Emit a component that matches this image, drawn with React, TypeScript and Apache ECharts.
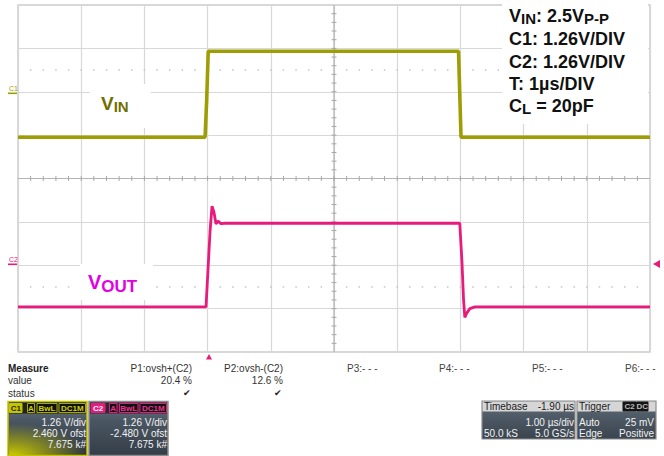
import React, { useEffect, useRef } from "react";
import * as echarts from "echarts";

// Screen layout of the scope grid (10 x 8 divisions)
const GRID_LEFT = 18;
const GRID_TOP = 5;
const GRID_W = 632;
const GRID_H = 347;
const TIME_DIVS = 10;
const VERT_DIVS = 8;
const VOLTS_PER_DIV = 1.26;
const C1_ZERO_DIV = 5.95; // ground marker of channel 1, in divisions from the bottom
const C2_ZERO_DIV = 2.0; // ground marker of channel 2

// Channel 1 (VIN): time in µs, level in V
const vinTime = [0, 2.96, 2.985, 3.01, 6.97, 6.99, 7.01, 10];
const vinVolts = [-1.26, -1.26, -0.2, 1.24, 1.24, 0.0, -1.26, -1.26];

// Channel 2 (VOUT): time in µs, level in V
const voutTime = [0, 2.975, 3.006, 3.038, 3.07, 3.1, 3.133, 3.165, 3.21, 3.275, 6.99, 7.025, 7.05, 7.07, 7.1, 7.15, 7.23, 10];
const voutVolts = [-1.21, -1.21, -0.14, 0.96, 1.716, 1.55, 1.2, 1.28, 1.21, 1.22, 1.22, 0.09, -1.01, -1.516, -1.39, -1.26, -1.21, -1.21];

// Measurement panel
const measureSlots = ["P1:ovsh+(C2)", "P2:ovsh-(C2)", "P3:- - -", "P4:- - -", "P5:- - -", "P6:- - -"];
const measureValues = ["20.4 %", "12.6 %"];
const c1Info = ["1.26 V/div", "2.460 V ofst", "7.675 k#"];
const c2Info = ["1.26 V/div", "-2.480 V ofst", "7.675 k#"];
const timebaseInfo = ["-1.90 µs", "1.00 µs/div", "50.0 kS", "5.0 GS/s"];
const triggerInfo = ["Auto", "25 mV", "Edge", "Positive"];

const FONT = '"Liberation Sans", Arial, Helvetica, sans-serif';

const VIN_TRACE = "#9e9e04";
const VIN_LABEL = "#6f6f00";
const VOUT_TRACE = "#e81a7c";
const VOUT_LABEL = "#e200e2";

function txt(text: string, x: number, y: number, size: number, fill: string, align = "left", bold = false, z = 30): any {
  return {
    type: "text",
    z,
    silent: true,
    style: {
      text,
      x,
      y,
      fill,
      fontSize: size,
      fontFamily: FONT,
      fontWeight: bold ? "bold" : "normal",
      textAlign: align,
      textVerticalAlign: "middle",
    },
  };
}

function rect(x: number, y: number, w: number, h: number, fill: any, stroke?: string, lw = 1, z = 25): any {
  return {
    type: "rect",
    z,
    silent: true,
    shape: { x, y, width: w, height: h },
    style: { fill, stroke: stroke || null, lineWidth: lw },
  };
}

function badge(label: string, x0: number, x1: number, y: number, bg: string, stroke: string, fg: string): any[] {
  return [
    rect(x0, y, x1 - x0, 9, bg, stroke, 1, 27),
    txt(label, (x0 + x1) / 2, y + 4.7, 8, fg, "center", true, 28),
  ];
}

// Grid decorations: dotted rows, and ticked centre cross
function renderDecor(params: any, api: any) {
  const children: any[] = [];
  const p0 = api.coord([0, 0]);
  const p1 = api.coord([TIME_DIVS, VERT_DIVS]);
  const dx = (p1[0] - p0[0]) / TIME_DIVS;
  const dy = (p0[1] - p1[1]) / VERT_DIVS;
  const cx = api.coord([TIME_DIVS / 2, 0])[0];
  const cy = api.coord([0, VERT_DIVS / 2])[1];
  const line = (x1: number, y1: number, x2: number, y2: number, color: string, w: number) => ({
    type: "line",
    shape: { x1, y1, x2, y2 },
    style: { stroke: color, lineWidth: w },
  });
  children.push(line(p0[0], cy, p1[0], cy, "#b4b4b4", 1.2));
  children.push(line(cx, p1[1], cx, p0[1], "#b4b4b4", 1.2));
  for (let i = 1; i < TIME_DIVS * 5; i++) {
    const x = p0[0] + (i * dx) / 5;
    children.push(line(x, cy - 2.5, x, cy + 2.5, "#a8a8a8", 1));
    [6.5, 1.5].forEach((d) => {
      const y = api.coord([0, d])[1];
      children.push({ type: "rect", shape: { x: x - 0.75, y: y - 0.75, width: 1.5, height: 1.5 }, style: { fill: "#c4c4c4" } });
    });
  }
  for (let j = 1; j < VERT_DIVS * 5; j++) {
    const y = p0[1] - (j * dy) / 5;
    children.push(line(cx - 2.5, y, cx + 2.5, y, "#a8a8a8", 1));
  }
  return { type: "group", children };
}

export default function App() {
  const ref = useRef<HTMLDivElement>(null);

  useEffect(() => {
    if (!ref.current) return;
    const chart = echarts.init(ref.current, null, { renderer: "svg" });

    const graphics: any[] = [];

    // white label boxes over the grid
    graphics.push(rect(90, 84, 61, 44, "#ffffff", undefined, 0, 10));
    graphics.push(rect(80, 264, 73, 36, "#ffffff", undefined, 0, 10));
    graphics.push(rect(502, 3, 146, 121, "#ffffff", undefined, 0, 10));

    // trace labels
    graphics.push({
      type: "text",
      z: 12,
      silent: true,
      style: {
        x: 101,
        y: 104,
        text: "{v|V}{s|IN}",
        textVerticalAlign: "middle",
        rich: {
          v: { fontSize: 19, fontWeight: "bold", fontFamily: FONT, fill: VIN_LABEL, verticalAlign: "top" },
          s: { fontSize: 15, fontWeight: "bold", fontFamily: FONT, fill: VIN_LABEL, verticalAlign: "top", padding: [5, 0, 0, 0] },
        },
      },
    });
    graphics.push({
      type: "text",
      z: 12,
      silent: true,
      style: {
        x: 88,
        y: 283,
        text: "{v|V}{s|OUT}",
        textVerticalAlign: "middle",
        rich: {
          v: { fontSize: 20, fontWeight: "bold", fontFamily: FONT, fill: VOUT_LABEL, verticalAlign: "top" },
          s: { fontSize: 17, fontWeight: "bold", fontFamily: FONT, fill: VOUT_LABEL, verticalAlign: "top", padding: [6, 0, 0, 0] },
        },
      },
    });

    // annotation block, top right
    const mainStyle = { fontSize: 18, fontWeight: "bold", fontFamily: FONT, fill: "#111111", verticalAlign: "top" };
    const subStyle = { fontSize: 15, fontWeight: "bold", fontFamily: FONT, fill: "#111111", verticalAlign: "top", padding: [4, 0, 0, 0] };
    const noteLines = [
      { y: 16, text: "{m|V}{s|IN}{m|: 2.5V}{s|P-P}" },
      { y: 38.5, text: "{m|C1: 1.26V/DIV}" },
      { y: 61.5, text: "{m|C2: 1.26V/DIV}" },
      { y: 84, text: "{m|T: 1µs/DIV}" },
      { y: 106, text: "{m|C}{s|L}{m| = 20pF}" },
    ];
    noteLines.forEach((l) => {
      graphics.push({
        type: "text",
        z: 12,
        silent: true,
        style: { x: 509, y: l.y, text: l.text, textVerticalAlign: "middle", rich: { m: mainStyle, s: subStyle } },
      });
    });

    // channel ground markers on the left edge
    graphics.push(txt("C1", 9, 88, 7, VIN_TRACE, "left", false, 12));
    graphics.push(rect(8, 92.5, 9, 1.6, VIN_TRACE, undefined, 0, 12));
    graphics.push(txt("C2", 9, 259.5, 7, VOUT_TRACE, "left", false, 12));
    graphics.push(rect(8, 263.5, 9, 1.6, VOUT_TRACE, undefined, 0, 12));

    // trigger markers
    graphics.push({ type: "polygon", z: 12, silent: true, shape: { points: [[206, 359.5], [212, 359.5], [209, 354]] }, style: { fill: VOUT_TRACE } });
    graphics.push({ type: "polygon", z: 12, silent: true, shape: { points: [[653, 264], [660, 260], [660, 268]] }, style: { fill: VOUT_TRACE } });

    // measurement table
    graphics.push(txt("Measure", 8, 368, 10, "#222222", "left", true));
    graphics.push(txt("value", 8, 380.5, 10, "#333333"));
    graphics.push(txt("status", 8, 393, 10, "#333333"));
    const slotRight = [192, 283];
    const slotLeft = [347, 439, 532, 625];
    measureSlots.forEach((name, i) => {
      if (i < 2) {
        graphics.push(txt(name, slotRight[i], 368, 10, "#333333", "right"));
        graphics.push(txt(measureValues[i], slotRight[i], 380.5, 10, "#333333", "right"));
        graphics.push(txt("✔", slotRight[i] - 5, 393, 9, "#222222", "center"));
      } else {
        graphics.push(txt(name, slotLeft[i - 2], 368, 10, "#444444", "left"));
      }
    });

    // channel 1 box
    const bodyGrad = (a: string, b: string, c: string) =>
      new echarts.graphic.LinearGradient(0, 0, 0, 1, [
        { offset: 0, color: a },
        { offset: 0.35, color: b },
        { offset: 1, color: c },
      ]);
    graphics.push(rect(8, 401.5, 79, 54, bodyGrad("#6a7684", "#4a5662", "#2e363e"), "#c4c400", 1.5));
    graphics.push(
      rect(9, 422, 77, 33, new echarts.graphic.RadialGradient(0.05, 1, 0.95, [
        { offset: 0, color: "rgba(200,200,0,1)" },
        { offset: 1, color: "rgba(200,200,0,0)" },
      ]), undefined, 0, 26)
    );
    graphics.push(rect(9, 402.5, 77, 11, "#22241a", undefined, 0, 26));
    graphics.push(...badge("C1", 9.5, 22, 403.5, "#c4c400", "#c4c400", "#2a2a00"));
    graphics.push(...badge("A", 27.5, 34.5, 403.5, "#111111", "#a8a800", "#d0d000"));
    graphics.push(...badge("BwL", 37, 57, 403.5, "#111111", "#a8a800", "#d0d000"));
    graphics.push(...badge("DC1M", 59, 85.5, 403.5, "#111111", "#a8a800", "#d0d000"));
    c1Info.forEach((s, i) => graphics.push(txt(s, 86, 422 + i * 11, 10, "#f2f2f2", "right")));

    // channel 2 box
    graphics.push(rect(89, 401.5, 79, 54, bodyGrad("#6a7684", "#4a5662", "#343e48"), "#8c8c8c", 1.5));
    graphics.push(rect(90, 402.5, 77, 11, "#2a2a2e", undefined, 0, 26));
    graphics.push(...badge("C2", 91, 105, 403.5, VOUT_TRACE, VOUT_TRACE, "#ffffff"));
    graphics.push(...badge("A", 109.5, 117, 403.5, "#111111", VOUT_TRACE, "#f03090"));
    graphics.push(...badge("BwL", 119.5, 138, 403.5, "#111111", VOUT_TRACE, "#f03090"));
    graphics.push(...badge("DC1M", 140, 166.5, 403.5, "#111111", VOUT_TRACE, "#f03090"));
    c2Info.forEach((s, i) => graphics.push(txt(s, 167, 422 + i * 11, 10, "#f2f2f2", "right")));

    // timebase box
    graphics.push(rect(482, 401, 93, 38, bodyGrad("#68737f", "#505c68", "#3a444e"), "#8c8c8c", 1.2));
    graphics.push(rect(482.5, 401.5, 92, 10, "#d6d6d6", undefined, 0, 26));
    graphics.push(txt("Timebase", 484, 406.5, 10, "#1c1c1c"));
    graphics.push(txt(timebaseInfo[0], 574, 406.5, 10, "#1c1c1c", "right"));
    graphics.push(txt(timebaseInfo[1], 574, 422.5, 10, "#f2f2f2", "right"));
    graphics.push(txt(timebaseInfo[2], 484, 433, 10, "#f2f2f2"));
    graphics.push(txt(timebaseInfo[3], 574, 433, 10, "#f2f2f2", "right"));

    // trigger box
    graphics.push(rect(577, 401, 79, 38, bodyGrad("#68737f", "#505c68", "#3a444e"), "#8c8c8c", 1.2));
    graphics.push(rect(577.5, 401.5, 78, 10, "#d6d6d6", undefined, 0, 26));
    graphics.push(txt("Trigger", 579, 406.5, 10, "#1c1c1c"));
    graphics.push(...badge("C2", 623, 636, 402, "#141414", "#141414", "#bbbbbb"));
    graphics.push(...badge("DC", 636.5, 648, 402, "#141414", "#141414", "#bbbbbb"));
    graphics.push(txt(triggerInfo[0], 579, 422.5, 10, "#f2f2f2"));
    graphics.push(txt(triggerInfo[1], 654, 422.5, 10, "#f2f2f2", "right"));
    graphics.push(txt(triggerInfo[2], 579, 433, 10, "#f2f2f2"));
    graphics.push(txt(triggerInfo[3], 654, 433, 10, "#f2f2f2", "right"));

    const hiddenAxis = {
      axisLine: { show: false },
      axisTick: { show: false },
      axisLabel: { show: false },
      splitLine: { show: false },
    };

    chart.setOption({
      animation: false,
      backgroundColor: "#ffffff",
      grid: {
        left: GRID_LEFT,
        top: GRID_TOP,
        width: GRID_W,
        height: GRID_H,
        show: true,
        borderColor: "#cbcbcb",
        borderWidth: 1.5,
      },
      xAxis: {
        type: "value",
        min: 0,
        max: TIME_DIVS,
        interval: 1,
        axisLine: { show: false },
        axisTick: { show: false },
        axisLabel: { show: false },
        splitLine: { show: true, lineStyle: { color: "#d8d8d8", width: 1.2 } },
      },
      yAxis: [
        {
          type: "value",
          min: 0,
          max: VERT_DIVS,
          interval: 1,
          axisLine: { show: false },
          axisTick: { show: false },
          axisLabel: { show: false },
          splitLine: { show: true, lineStyle: { color: "#d8d8d8", width: 1.2 } },
        },
        { type: "value", min: -C1_ZERO_DIV * VOLTS_PER_DIV, max: (VERT_DIVS - C1_ZERO_DIV) * VOLTS_PER_DIV, ...hiddenAxis },
        { type: "value", min: -C2_ZERO_DIV * VOLTS_PER_DIV, max: (VERT_DIVS - C2_ZERO_DIV) * VOLTS_PER_DIV, ...hiddenAxis },
      ],
      series: [
        {
          type: "custom",
          xAxisIndex: 0,
          yAxisIndex: 0,
          data: [[0, 0]],
          renderItem: renderDecor,
          silent: true,
          clip: false,
          z: 1,
        },
        {
          type: "line",
          name: "VIN",
          yAxisIndex: 1,
          data: vinTime.map((t, i) => [t, vinVolts[i]]),
          showSymbol: false,
          symbol: "none",
          lineStyle: { color: VIN_TRACE, width: 3.6 },
          silent: true,
          z: 3,
        },
        {
          type: "line",
          name: "VOUT",
          yAxisIndex: 2,
          data: voutTime.map((t, i) => [t, voutVolts[i]]),
          showSymbol: false,
          symbol: "none",
          lineStyle: { color: VOUT_TRACE, width: 2.8 },
          silent: true,
          z: 4,
        },
      ],
      graphic: { elements: graphics },
    });

    return () => chart.dispose();
  }, []);

  return (
    <div
      ref={ref}
      style={{ position: "absolute", left: 0, top: 0, width: 664, height: 456, background: "#ffffff" }}
    />
  );
}
